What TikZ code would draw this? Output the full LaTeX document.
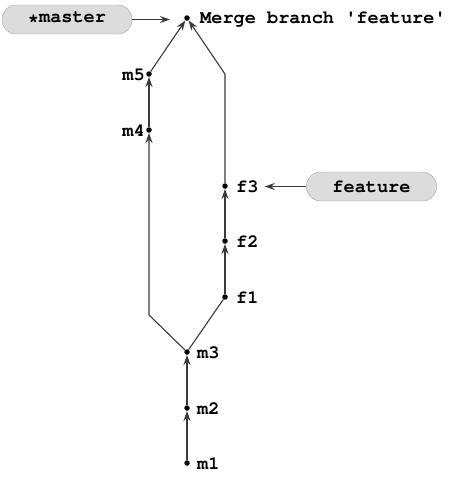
\documentclass[tikz,border=0pt]{standalone}
\usepackage{fontspec}
\setmonofont{texgyrecursor}[Extension=.otf,UprightFont=*-regular,BoldFont=*-bold]
\usetikzlibrary{arrows.meta}
\definecolor{linegray}{HTML}{3A3A3A}
\definecolor{boxfill}{HTML}{DCDCDC}
\definecolor{boxline}{HTML}{A0A0A0}
\tikzset{
  commit/.style={circle,fill=black,inner sep=0pt,minimum size=5.5pt},
  lbl/.style={font=\ttfamily\bfseries\fontsize{18.6}{20}\selectfont,inner sep=0pt,text=black},
  conn/.style={draw=linegray,line width=1.1pt},
  arr/.style={conn,-{Stealth[length=10pt,width=7pt]}},
  branchbox/.style={draw=boxline,fill=boxfill,rounded corners=14pt,minimum width=130pt,minimum height=29pt,inner sep=0pt,font=\ttfamily\bfseries\fontsize{18.6}{20}\selectfont}
}
\begin{document}
\begin{tikzpicture}[x=1pt,y=-1pt]
\useasboundingbox (0,0) rectangle (450,477);
% commits
\node[commit] (m1) at (187,463) {};
\node[commit] (m2) at (187,408) {};
\node[commit] (m3) at (187,352) {};
\node[commit] (f1) at (225,297) {};
\node[commit] (f2) at (225,241) {};
\node[commit] (f3) at (225,186) {};
\node[commit] (m4) at (149,130) {};
\node[commit] (m5) at (149,74) {};
\node[commit] (mg) at (187,18) {};
\coordinate (bl) at (149,315);
\coordinate (br) at (225,74);
% labels
\node[lbl,anchor=base west] (m1l) at (197,469) {m1};
\node[lbl,anchor=base west] (m2l) at (197,414) {m2};
\node[lbl,anchor=base west] (m3l) at (197,358) {m3};
\node[lbl,anchor=base west] (f1l) at (236,303) {f1};
\node[lbl,anchor=base west] (f2l) at (236,247) {f2};
\node[lbl,anchor=base west] (f3l) at (236,192) {f3};
\node[lbl,anchor=base east] (m4l) at (145,136) {m4};
\node[lbl,anchor=base east] (m5l) at (145,80) {m5};
\node[lbl,anchor=base west] (mgl) at (200,23) {Merge branch 'feature'};
% branch boxes
\node[branchbox] (master) at (67,19.5) {\raisebox{-4pt}{*}master};
\node[branchbox] (feature) at (371.5,186.5) {feature};
% edges
\draw[arr] (m1) -- (m2);
\draw[arr] (m2) -- (m3);
\draw[conn] (m3) -- (f1);
\draw[arr] (f1) -- (f2);
\draw[arr] (f2) -- (f3);
\draw[arr] (m3) -- (bl) -- (m4);
\draw[arr] (m4) -- (m5);
\draw[arr] (m5) -- (mg);
\draw[arr] (f3) -- (br) -- (mg);
\draw[arr,shorten >=17pt] (master.east) -- (master.east -| mg);
\draw[arr,shorten >=6pt] (feature.west) -- (f3l.east |- feature.west);
\end{tikzpicture}
\end{document}
